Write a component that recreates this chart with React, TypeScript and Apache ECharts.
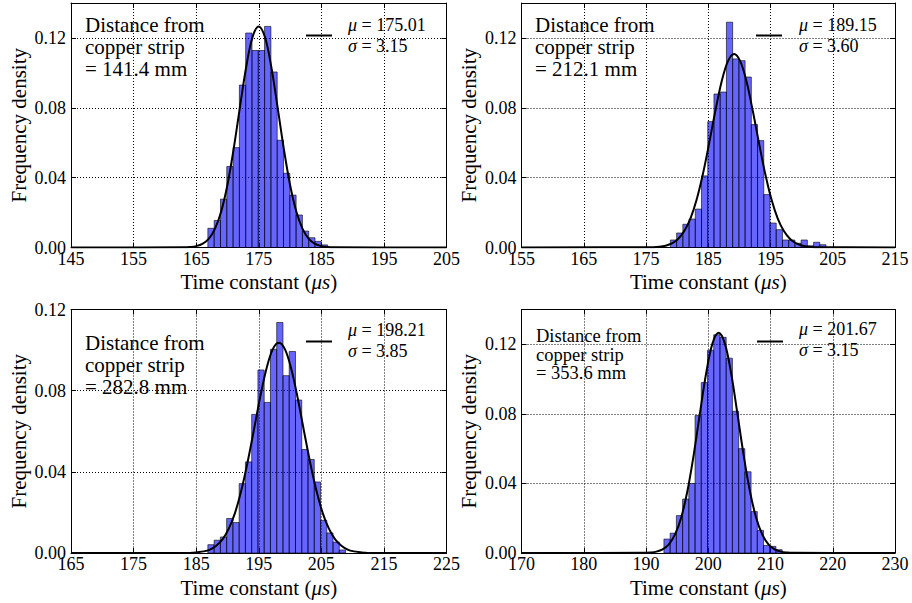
import React, { useEffect, useRef } from 'react';
import * as echarts from 'echarts';

// ---------- data ----------
const distances = ['141.4', '212.1', '282.8', '353.6'];
const fitMu = ['175.01', '189.15', '198.21', '201.67'];
const fitSigma = ['3.15', '3.60', '3.85', '3.15'];
const xAxisMin = [145, 155, 165, 170];
const xAxisMax = [205, 215, 225, 230];
const yAxisMax = [0.14, 0.14, 0.12, 0.14];
const xTickStep = 10;
const yTickStep = 0.04;

// histogram bins (first left edge, width, heights)
const binStart = [166.87, 178.92, 186.87, 192.88];
const binWidth = [1.007, 1.0, 1.0, 1.0];
const heights1 = [0.0110, 0.0155, 0.0277, 0.0464, 0.0572, 0.0930, 0.1228, 0.1128, 0.1128, 0.1266, 0.1005, 0.0614, 0.0425, 0.0300, 0.0186, 0.0094, 0.0056, 0.0035, 0.0015];
const heights2 = [0.0043, 0.0083, 0.0133, 0.0163, 0.0220, 0.0410, 0.0721, 0.0879, 0.0890, 0.1290, 0.1080, 0.1070, 0.0976, 0.0704, 0.0612, 0.0303, 0.0140, 0.0102, 0.0043, 0.0043, 0.0024, 0.0043, 0.0010, 0.0030, 0.0016];
const heights3 = [0.0041, 0.0063, 0.0079, 0.0170, 0.0150, 0.0342, 0.0449, 0.0683, 0.0902, 0.0742, 0.1004, 0.1136, 0.0874, 0.0993, 0.0754, 0.0510, 0.0461, 0.0350, 0.0161, 0.0099, 0.0054, 0.0015];
const heights4 = [0.0080, 0.0114, 0.0215, 0.0310, 0.0400, 0.0790, 0.0980, 0.1166, 0.1255, 0.1240, 0.1120, 0.0815, 0.0600, 0.0467, 0.0238, 0.0130, 0.0043, 0.0038, 0.0019];

// fitted curves
const curveX1 = [145, 163, 164, 165, 166, 167, 168, 169, 170, 171, 172, 173, 174, 175, 176, 177, 178, 179, 180, 181, 182, 183, 184, 185, 186, 187, 205];
const curveY1 = [0, 0.0001, 0.0003, 0.0008, 0.0021, 0.0050, 0.0107, 0.0206, 0.0359, 0.0566, 0.0805, 0.1035, 0.1204, 0.1266, 0.1204, 0.1035, 0.0805, 0.0566, 0.0359, 0.0206, 0.0107, 0.0050, 0.0021, 0.0008, 0.0003, 0.0001, 0];
const curveX2 = [155, 176.15, 177.15, 178.15, 179.15, 180.15, 181.15, 182.15, 183.15, 184.15, 185.15, 186.15, 187.15, 188.15, 189.15, 190.15, 191.15, 192.15, 193.15, 194.15, 195.15, 196.15, 197.15, 198.15, 199.15, 200.15, 201.15, 202.15, 215];
const curveY2 = [0, 0.0002, 0.0004, 0.0010, 0.0023, 0.0049, 0.0094, 0.0167, 0.0276, 0.0422, 0.0598, 0.0783, 0.0950, 0.1066, 0.1108, 0.1066, 0.0950, 0.0783, 0.0598, 0.0422, 0.0276, 0.0167, 0.0094, 0.0049, 0.0023, 0.0010, 0.0004, 0.0002, 0];
const curveX3 = [165, 184.21, 185.21, 186.21, 187.21, 188.21, 189.21, 190.21, 191.21, 192.21, 193.21, 194.21, 195.21, 196.21, 197.21, 198.21, 199.21, 200.21, 201.21, 202.21, 203.21, 204.21, 205.21, 206.21, 207.21, 208.21, 209.21, 210.21, 211.21, 212.21, 225];
const curveY3 = [0, 0.0001, 0.0004, 0.0008, 0.0017, 0.0036, 0.0067, 0.0120, 0.0198, 0.0308, 0.0446, 0.0604, 0.0765, 0.0905, 0.1002, 0.1036, 0.1002, 0.0905, 0.0765, 0.0604, 0.0446, 0.0308, 0.0198, 0.0120, 0.0067, 0.0036, 0.0017, 0.0008, 0.0004, 0.0001, 0];
const curveX4 = [170, 189.67, 190.67, 191.67, 192.67, 193.67, 194.67, 195.67, 196.67, 197.67, 198.67, 199.67, 200.67, 201.67, 202.67, 203.67, 204.67, 205.67, 206.67, 207.67, 208.67, 209.67, 210.67, 211.67, 212.67, 213.67, 230];
const curveY4 = [0, 0.0001, 0.0003, 0.0008, 0.0021, 0.0050, 0.0107, 0.0206, 0.0359, 0.0566, 0.0805, 0.1035, 0.1204, 0.1266, 0.1204, 0.1035, 0.0805, 0.0566, 0.0359, 0.0206, 0.0107, 0.0050, 0.0021, 0.0008, 0.0003, 0.0001, 0];

const allHeights = [heights1, heights2, heights3, heights4];
const allCurveX = [curveX1, curveX2, curveX3, curveX4];
const allCurveY = [curveY1, curveY2, curveY3, curveY4];

// ---------- layout ----------
const FAMILY = 'Liberation Serif';
const grids = [
  { left: 71, top: 3, width: 375.5, height: 244.5 },
  { left: 521.5, top: 3, width: 373.5, height: 244.5 },
  { left: 71, top: 309.5, width: 375.5, height: 243.5 },
  { left: 521.5, top: 309.5, width: 373.5, height: 243.5 },
];
const annot = [
  { x: 85, y: 14, size: 21, lh: 22 },
  { x: 535, y: 14, size: 21, lh: 22 },
  { x: 85, y: 332, size: 21, lh: 22 },
  { x: 536, y: 327, size: 18.5, lh: 18.5 },
];
const legendPos = [
  { lx: 306, ly: 35.5, tx: 348, ty1: 15, ty2: 36 },
  { lx: 756, ly: 35.5, tx: 799, ty1: 15, ty2: 36 },
  { lx: 306, ly: 341.5, tx: 348, ty1: 320, ty2: 341 },
  { lx: 757, ly: 341.5, tx: 799, ty1: 319, ty2: 340 },
];

function buildOption() {
  const xAxes: any[] = [];
  const yAxes: any[] = [];
  const series: any[] = [];
  const graphics: any[] = [];
  const titles: any[] = [];
  const tickLabel = { color: '#000', fontFamily: FAMILY, fontSize: 18 };

  grids.forEach((g, i) => {
    const x0 = xAxisMin[i];
    const span = xAxisMax[i] - x0;
    const hideMax = yAxisMax[i] > 0.121;
    const common = {
      gridIndex: i,
      type: 'value',
      axisLine: { show: true, onZero: false, lineStyle: { color: '#000', width: 1 } },
      axisTick: { show: true, inside: true, length: 5, lineStyle: { color: '#000' } },
    };
    xAxes.push({
      ...common,
      position: 'bottom',
      min: 0,
      max: span,
      interval: xTickStep,
      axisLabel: { ...tickLabel, margin: 2, formatter: (v: number) => String(Math.round(v + x0)) },
      splitLine: { show: true, lineStyle: { color: '#000', type: [1, 2], width: 1 } },
      name: 'Time constant ({i|μs})',
      nameLocation: 'middle',
      nameGap: 24,
      nameTextStyle: {
        color: '#000', fontFamily: FAMILY, fontSize: 21,
        rich: { i: { fontStyle: 'italic', fontFamily: FAMILY, fontSize: 21, color: '#000' } },
      },
    });
    xAxes.push({
      ...common,
      position: 'top',
      min: 0,
      max: span,
      interval: xTickStep,
      axisLabel: { show: false },
      splitLine: { show: false },
    });
    yAxes.push({
      ...common,
      position: 'left',
      min: 0,
      max: yAxisMax[i],
      interval: yTickStep,
      axisLabel: {
        ...tickLabel, margin: 5, showMaxLabel: !hideMax,
        formatter: (v: number) => v.toFixed(2),
      },
      splitLine: { show: true, lineStyle: { color: '#000', type: [1, 2], width: 1 } },
      name: 'Frequency density',
      nameLocation: 'middle',
      nameGap: 42,
      nameTextStyle: { color: '#000', fontFamily: FAMILY, fontSize: 21 },
    });
    yAxes.push({
      ...common,
      position: 'right',
      min: 0,
      max: yAxisMax[i],
      interval: yTickStep,
      axisLabel: { show: false },
      splitLine: { show: false },
    });

    const bars = allHeights[i].map((h, k) => {
      const a = binStart[i] + k * binWidth[i] - x0;
      return [a, a + binWidth[i], h];
    });
    series.push({
      type: 'custom',
      xAxisIndex: 2 * i,
      yAxisIndex: 2 * i,
      data: bars,
      encode: { x: [0, 1], y: 2 },
      renderItem: (params: any, api: any) => {
        const p0 = api.coord([api.value(0), api.value(2)]);
        const p1 = api.coord([api.value(1), 0]);
        return {
          type: 'rect',
          shape: { x: p0[0], y: p0[1], width: p1[0] - p0[0], height: p1[1] - p0[1] },
          style: { fill: 'rgba(0,0,255,0.6)', stroke: 'rgba(0,0,0,0.6)', lineWidth: 1 },
        };
      },
      z: 2,
    });
    series.push({
      type: 'line',
      xAxisIndex: 2 * i,
      yAxisIndex: 2 * i,
      data: allCurveX[i].map((x, k) => [x - x0, allCurveY[i][k]]),
      showSymbol: false,
      smooth: 0.35,
      lineStyle: { color: '#000', width: 2 },
      z: 3,
    });

    const a = annot[i];
    titles.push({
      text: `Distance from\ncopper strip\n= ${distances[i]} mm`,
      left: a.x,
      top: a.y,
      padding: 0,
      itemGap: 0,
      z: 10,
      textStyle: {
        fontFamily: FAMILY,
        fontSize: a.size,
        lineHeight: a.lh,
        fontWeight: 'normal',
        color: '#000',
      },
    });
    const l = legendPos[i];
    graphics.push({
      type: 'line',
      shape: { x1: l.lx, y1: l.ly, x2: l.lx + 26, y2: l.ly },
      style: { stroke: '#000', lineWidth: 2 },
      z: 10,
    });
    const legendStyle = {
      fontFamily: FAMILY,
      fontSize: 18,
      lineHeight: 20,
      fontWeight: 'normal',
      color: '#000',
      rich: {
        m: { fontFamily: FAMILY, fontSize: 18, lineHeight: 20, fontStyle: 'italic', color: '#000' },
        n: { fontFamily: FAMILY, fontSize: 18, lineHeight: 20, color: '#000' },
      },
    };
    titles.push({
      text: `{m|μ}{n| = ${fitMu[i]}}`,
      left: l.tx, top: l.ty1, padding: 0, z: 10, textStyle: legendStyle,
    });
    titles.push({
      text: `{m|σ}{n| = ${fitSigma[i]}}`,
      left: l.tx, top: l.ty2, padding: 0, z: 10, textStyle: legendStyle,
    });
  });

  return {
    animation: false,
    backgroundColor: '#fff',
    title: titles,
    grid: grids.map((g) => ({ ...g, containLabel: false })),
    xAxis: xAxes,
    yAxis: yAxes,
    series,
    graphic: graphics,
  };
}

export default function App() {
  const ref = useRef<HTMLDivElement>(null);
  useEffect(() => {
    if (!ref.current) return;
    const chart = echarts.init(ref.current, undefined, { renderer: 'svg' });
    chart.setOption(buildOption() as any);
    return () => chart.dispose();
  }, []);
  return (
    <div
      ref={ref}
      style={{ position: 'absolute', left: 0, top: 0, width: 912, height: 603, background: '#fff' }}
    />
  );
}
